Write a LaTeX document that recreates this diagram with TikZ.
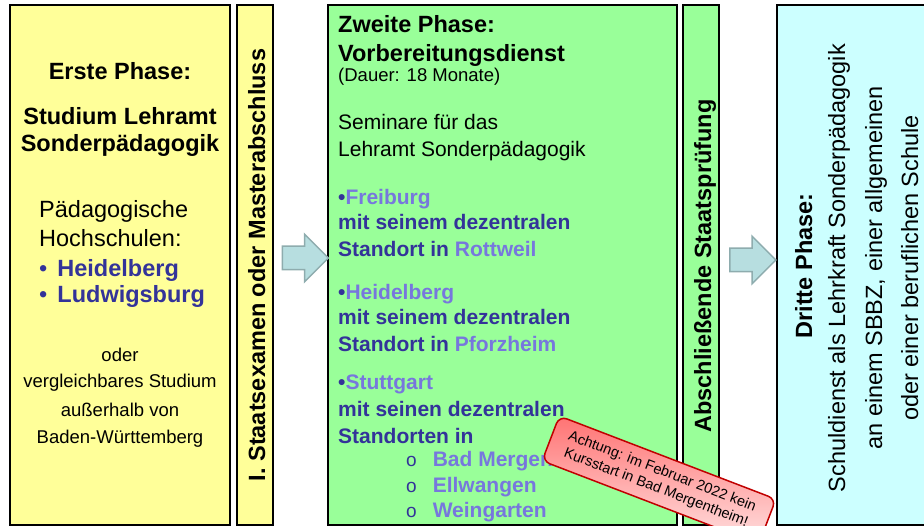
\documentclass[tikz,border=0pt]{standalone}
\usepackage{fontspec}
\setmainfont{Liberation Sans}
\usepackage{xcolor}
\usetikzlibrary{shapes.arrows,positioning,calc}

\definecolor{phaseyellow}{HTML}{FFFF99}
\definecolor{phasegreen}{HTML}{99FF99}
\definecolor{phasecyan}{HTML}{CCFFFF}
\definecolor{darkblue}{HTML}{333399}
\definecolor{lightblue}{HTML}{7777DD}
\definecolor{arrowfill}{HTML}{B7DEE0}
\definecolor{arrowline}{HTML}{8EACAE}
\definecolor{notered}{HTML}{C00000}

\begin{document}
\begin{tikzpicture}[x=1pt,y=-1pt,
	phase box/.style={draw=black,line width=2pt,minimum height=520pt,inner sep=0pt},
	exam bar/.style={phase box,minimum width=36pt},
	txt/.style={inner sep=0pt,anchor=base west},
	big/.style={txt,font=\fontsize{23.5}{27}\selectfont},
	bigbold/.style={txt,font=\fontsize{23.5}{27}\selectfont\bfseries},
	mid/.style={txt,font=\fontsize{21}{25}\selectfont},
	midbold/.style={txt,font=\fontsize{21}{25}\selectfont\bfseries,text=darkblue},
	small/.style={txt,font=\fontsize{18.5}{22}\selectfont},
	upright/.style={rotate=90,anchor=base},
	next arrow/.style={single arrow,draw=arrowline,fill=arrowfill,line width=1.5pt,minimum height=46pt,inner xsep=0pt,inner ysep=11pt,single arrow head extend=12pt},
	note/.style={draw=notered,line width=1.5pt,rounded corners=8pt,top color=red!55,bottom color=red!12,align=center,font=\fontsize{14.5}{17.5}\selectfont,minimum width=232pt,minimum height=48pt,inner sep=2pt}]

	\useasboundingbox (0,0) rectangle (924,526);

	% phases and exams
	\node[phase box,fill=phaseyellow,minimum width=220pt] (phase1) at (120,265) {};
	\node[exam bar,fill=phaseyellow] (exam1) at (255,265) {};
	\node[phase box,fill=phasegreen,minimum width=349pt] (phase2) at (502.5,265) {};
	\node[exam bar,fill=phasegreen] (exam2) at (701,265) {};
	\node[phase box,fill=phasecyan,minimum width=160pt] (phase3) at (857,265) {};

	\node[next arrow] (arrow1) at ($(exam1.east)!.5!(phase2.west)+(-1,-7)$) {};
	\node[next arrow] (arrow2) at ($(exam2.east)!.5!(phase3.west)+(-1,-5)$) {};

	% first phase
	\node[bigbold,anchor=base] (title1) at (120,80) {Erste Phase:};
	\foreach \y/\txt [count=\i] in {125/Studium Lehramt, 152/Sonderpädagogik}
		\node[bigbold,anchor=base] (study\i) at (120,\y) {\txt};
	\foreach \y/\txt [count=\i] in {218/Pädagogische, 247/Hochschulen:}
		\node[big] (school\i) at (39,\y) {\txt};
	\foreach \y/\txt [count=\i] in {277/Heidelberg, 303/Ludwigsburg}
		\node[bigbold,text=darkblue] (uni\i) at (39,\y) {{\mdseries\textbullet}\hspace{10pt}\txt};
	\foreach \y/\txt [count=\i] in {362/oder, 388/vergleichbares Studium, 417/außerhalb von, 443/Baden-Württemberg}
		\node[small,anchor=base] (other\i) at (120,\y) {\txt};

	\node[bigbold,upright] (exam1text) at (265,265) {I. Staatsexamen oder Masterabschluss};

	% second phase
	\node[bigbold] (title2) at (338,33) {Zweite Phase:};
	\node[bigbold] (title2b) at (338,62) {Vorbereitungsdienst};
	\node[small] (duration) at (338,82) {(Dauer: 18 Monate)};
	\foreach \y/\txt [count=\i] in {130/Seminare für das, 157/Lehramt Sonderpädagogik}
		\node[mid] (seminar\i) at (338,\y) {\txt};

	\foreach \y/\city/\site [count=\i] in {205/Freiburg/Rottweil, 300/Heidelberg/Pforzheim}{
		\node[midbold] (city\i) at (338,\y) {\textbullet\textcolor{lightblue}{\city}};
		\node[midbold] (remote\i) at (338,\y+25) {mit seinem dezentralen};
		\node[midbold] (site\i) at (338,\y+52) {Standort in \textcolor{lightblue}{\site}};
	}
	\node[midbold] (city3) at (338,390) {\textbullet\textcolor{lightblue}{Stuttgart}};
	\node[midbold] (remote3) at (338,417) {mit seinen dezentralen};
	\node[midbold] (site3) at (338,443) {Standorten in};
	\foreach \y/\txt [count=\i] in {467/Bad Mergentheim, 493/Ellwangen, 517/Weingarten}
		\node[midbold,text=lightblue] (place\i) at (406,\y) {{\mdseries\fontsize{19}{19}\selectfont\textcolor{darkblue}{o}}\hspace{16pt}\txt};

	\node[note,rotate=-21] (warning) at (659,480) {Achtung: im Februar 2022 kein\\Kursstart in Bad Mergentheim!};

	\node[bigbold,upright] (exam2text) at (711,266) {Abschließende Staatsprüfung};

	% third phase
	\node[bigbold,upright] (title3) at (812,266) {Dritte Phase:};
	\foreach \x/\txt [count=\i] in {845/Schuldienst als Lehrkraft Sonderpädagogik, {882/an einem SBBZ, einer allgemeinen}, 918/oder einer beruflichen Schule}
		\node[big,upright] (duty\i) at (\x,268) {\txt};
\end{tikzpicture}
\end{document}
